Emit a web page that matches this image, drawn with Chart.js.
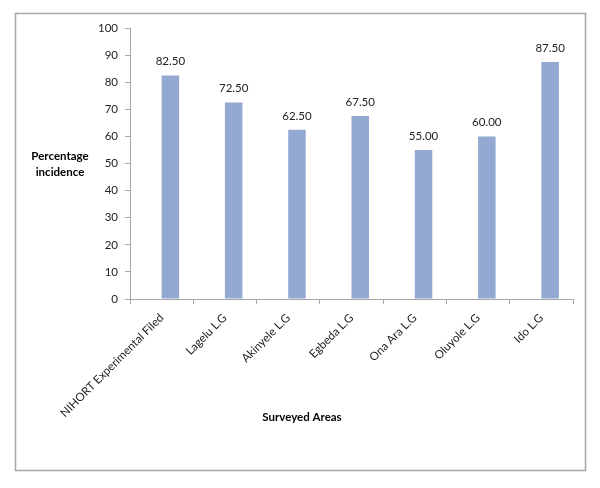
<!DOCTYPE html>
<html>
<head>
<meta charset="utf-8">
<script src="https://cdn.jsdelivr.net/npm/chart.js@4"></script>
<style>
html,body{margin:0;padding:0;background:#fff;}
#wrap{width:600px;height:488px;position:relative;}
</style>
</head>
<body>
<div id="wrap"><canvas id="c" width="600" height="488"></canvas></div>
<script>
const categories = ["NIHORT Experimental Filed","Lagelu L.G","Akinyele L.G","Egbeda L.G","Ona Ara L.G","Oluyole L.G","Ido L.G"];
const emptySeries = [];
const incidence = [82.5, 72.5, 62.5, 67.5, 55.0, 60.0, 87.5];
const yTicks = [0,10,20,30,40,50,60,70,80,90,100];
const yTitleLines = ["Percentage","incidence"];
const xTitle = "Surveyed Areas";

const FONT = "Lato, 'Open Sans', sans-serif";

const decor = {
  id: 'decor',
  beforeDraw(chart) {
    const ctx = chart.ctx;
    ctx.save();
    ctx.fillStyle = '#fff';
    ctx.fillRect(0,0,chart.width,chart.height);
    ctx.strokeStyle = '#a6a6a6';
    ctx.lineWidth = 1.5;
    ctx.strokeRect(15.5, 13.5, 570, 457);
    ctx.restore();
  },
  afterDatasetsDraw(chart) {
    const ctx = chart.ctx;
    const meta = chart.getDatasetMeta(1);
    ctx.save();
    ctx.font = "11.5px " + FONT;
    ctx.fillStyle = '#222';
    ctx.textAlign = 'center';
    ctx.textBaseline = 'bottom';
    meta.data.forEach((bar, i) => {
      ctx.fillText(incidence[i].toFixed(2), bar.x, bar.y - 8);
    });
    ctx.font = "bold 11.5px " + FONT;
    ctx.fillStyle = '#000';
    ctx.textBaseline = 'middle';
    const cy = (chart.chartArea.top + chart.chartArea.bottom) / 2;
    ctx.fillText(yTitleLines[0], 60, cy - 7);
    ctx.fillText(yTitleLines[1], 60, cy + 9);
    ctx.fillText(xTitle, 302, 417);
    ctx.restore();
  }
};

new Chart(document.getElementById('c'), {
  type: 'bar',
  data: {
    labels: categories,
    datasets: [{
      data: emptySeries,
      backgroundColor: 'rgba(0,0,0,0)',
      borderWidth: 0,
      categoryPercentage: 0.553,
      barPercentage: 1
    },{
      data: incidence,
      backgroundColor: '#94a9d2',
      borderWidth: 0,
      categoryPercentage: 0.553,
      barPercentage: 1
    }]
  },
  options: {
    responsive: false,
    animation: false,
    devicePixelRatio: 1,
    layout: { padding: { left: 15, top: 28, right: 27, bottom: 0 } },
    plugins: { legend: { display: false }, tooltip: { enabled: false } },
    scales: {
      x: {
        offset: true,
        grid: { offset: true, drawOnChartArea: false, drawTicks: true, tickLength: 5, color: '#a6a6a6' },
        border: { color: '#a6a6a6', width: 1 },
        ticks: { minRotation: 45, maxRotation: 45, autoSkip: false, color: '#222', font: { family: FONT, size: 11.5 }, padding: 7 },
        afterFit(scale) { scale.height = 189; }
      },
      y: {
        min: 0, max: 100,
        afterBuildTicks(scale) { scale.ticks = yTicks.map(v => ({ value: v })); },
        grid: { drawOnChartArea: false, drawTicks: true, tickLength: 5, color: '#a6a6a6' },
        border: { color: '#a6a6a6', width: 1 },
        ticks: { color: '#222', font: { family: FONT, size: 11.5 }, padding: 7 },
        afterFit(scale) { scale.width = 115; }
      }
    }
  },
  plugins: [decor]
});
</script>
</body>
</html>
